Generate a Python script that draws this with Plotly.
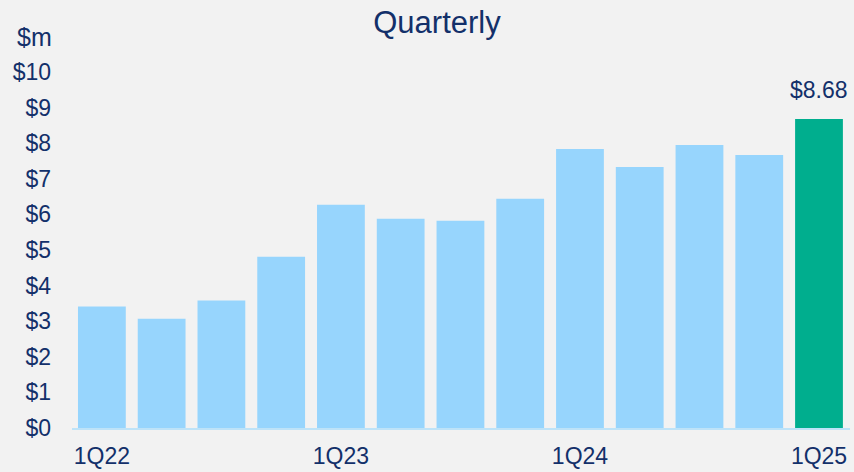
import plotly.graph_objects as go

quarters = ["1Q22", "2Q22", "3Q22", "4Q22", "1Q23", "2Q23", "3Q23", "4Q23",
            "1Q24", "2Q24", "3Q24", "4Q24", "1Q25"]
values = [3.41, 3.07, 3.58, 4.81, 6.27, 5.88, 5.82, 6.44, 7.84, 7.33, 7.95, 7.67, 8.68]
shown_ticks = ["1Q22", "1Q23", "1Q24", "1Q25"]
y_ticks = list(range(0, 11))
y_tick_labels = ["$" + str(v) for v in y_ticks]

NAVY = "#13306A"
LIGHT = "#97D5FD"
GREEN = "#00AE8E"
FONT = "Liberation Sans, Arial, sans-serif"

colors = [LIGHT] * (len(values) - 1) + [GREEN]

fig = go.Figure(go.Bar(x=quarters, y=values, marker=dict(color=colors, line=dict(width=0)),
                       hoverinfo="x+y"))

fig.add_annotation(x=quarters[-1], y=values[-1], text="$%.2f" % values[-1],
                   showarrow=False, yanchor="bottom", yshift=14,
                   font=dict(family=FONT, size=23, color=NAVY))
fig.add_annotation(xref="paper", yref="paper", x=-18 / 778, y=(428.5 - 37) / 356.5,
                   text="$m", showarrow=False, xanchor="right", yanchor="middle",
                   font=dict(family=FONT, size=25, color=NAVY))

fig.update_layout(
    width=854, height=472,
    margin=dict(l=72, r=4, t=72, b=43.5),
    paper_bgcolor="#F2F2F2", plot_bgcolor="#F2F2F2",
    bargap=0.2,
    showlegend=False,
    title=dict(text="Quarterly", x=437 / 854, xref="container", xanchor="center",
               y=1 - 22 / 472, yref="container", yanchor="middle",
               font=dict(family=FONT, size=31, color=NAVY)),
    xaxis=dict(type="category", tickmode="array", tickvals=shown_ticks, ticktext=shown_ticks,
               showgrid=False, zeroline=False, showline=True, linecolor="#BEE3F8", linewidth=2,
               ticks="", ticklabelstandoff=6,
               tickfont=dict(family=FONT, size=23, color=NAVY)),
    yaxis=dict(range=[0, 10], tickmode="array", tickvals=y_ticks, ticktext=y_tick_labels,
               showgrid=False, zeroline=False, showline=False, ticks="",
               ticklabelstandoff=20,
               tickfont=dict(family=FONT, size=23, color=NAVY)),
)

fig.write_html("out.html")
